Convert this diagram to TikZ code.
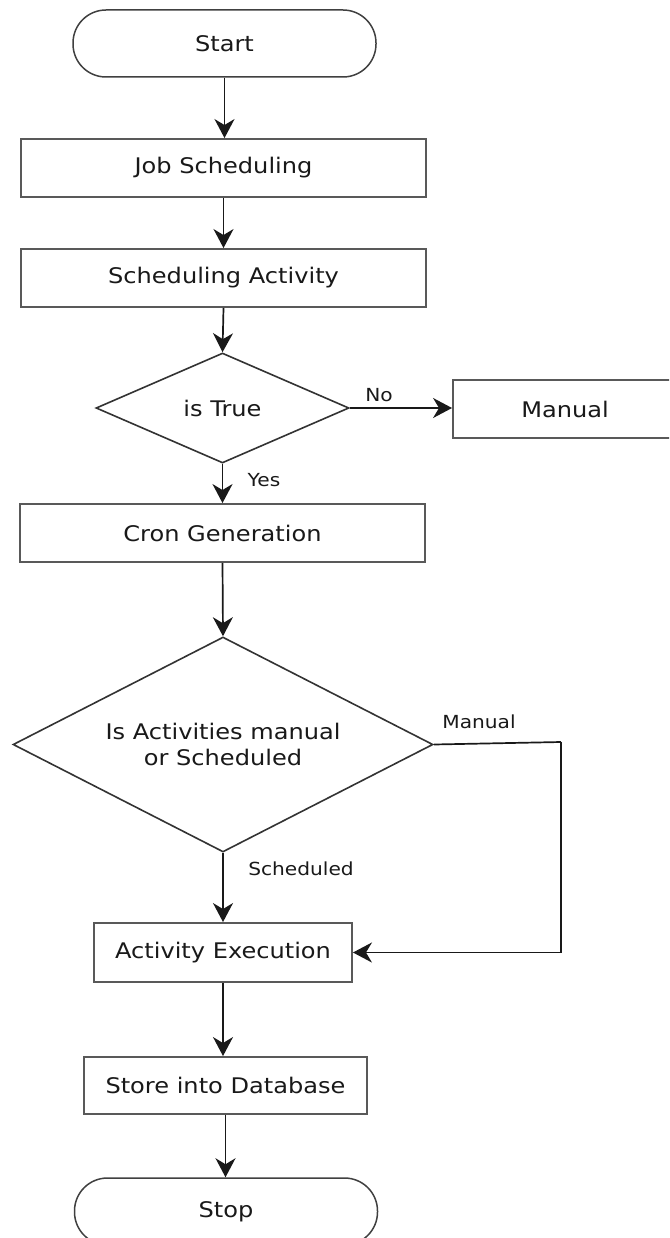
\documentclass[tikz,border=0pt]{standalone}
\usepackage{fontspec}
\setmainfont{DejaVu Sans}[FakeStretch=1.12]
\usetikzlibrary{shapes.geometric,arrows.meta}
\begin{document}
\begin{tikzpicture}[x=1pt,y=-1pt,
  every node/.style={font=\fontsize{21.5}{26}\selectfont, text=black!90},
  box/.style={draw=black!65, line width=1.9pt, minimum width=#1, minimum height=58pt, inner sep=0pt},
  pill/.style={draw=black!75, line width=1.5pt, rounded corners=33pt, minimum width=303pt, minimum height=67pt, inner sep=0pt},
  decision/.style={diamond, draw=black!80, line width=1.6pt, inner sep=0pt, align=center},
  conn/.style={draw=black!90, line width=1.7pt},
  arr/.style={conn, -{Stealth[length=19pt,width=20pt,inset=6pt]}},
  lbl/.style={font=\fontsize{18}{22}\selectfont}
]
\useasboundingbox (0,0) rectangle (669,1238);
\clip (0,0) rectangle (669,1238);
\fill[white] (0,0) rectangle (669,1238);

\node[pill] (start) at (224.5,43.5) {Start};
\node[box=405pt] (job) at (223.5,168) {Job Scheduling};
\node[box=405pt] (sact) at (223.5,278) {Scheduling Activity};
\node[decision, minimum width=253pt, minimum height=110pt, aspect=2.3] (d1) at (222.5,408) {is True};
\node[box=224pt] (man) at (565,409) {Manual};
\node[box=405pt] (cron) at (222.5,533) {Cron Generation};
\node[decision, minimum width=420pt, minimum height=215pt, aspect=1.95] (d2) at (223,744.5) {Is Activities manual\\or Scheduled};
\node[box=258pt, minimum height=59pt] (exec) at (223,952.5) {Activity Execution};
\node[box=283pt, minimum height=57pt] (store) at (225.5,1085.5) {Store into Database};
\node[pill] (stop) at (226,1211.5) {Stop};

\coordinate (c1) at (561,742);

\draw[arr] (start.south) -- (start.south |- job.north);
\draw[arr] (job.south) -- (job.south |- sact.north);
\draw[arr] (sact.south) -- (d1.north);
\draw[arr] (d1.east) -- (d1.east -| man.west);
\draw[arr] (d1.south) -- (d1.south |- cron.north);
\draw[arr] (cron.south) -- (d2.north);
\draw[arr] (d2.south) -- (d2.south |- exec.north);
\draw[conn] (d2.east) -- (c1);
\draw[arr] (c1) |- (exec.east);
\draw[arr] (exec.south) -- (exec.south |- store.north);
\draw[arr] (store.south) -- (store.south |- stop.north);

\node[lbl] (lno) at (379,395) {No};
\node[lbl] (lyes) at (264,480) {Yes};
\node[lbl] (lman) at (479,722) {Manual};
\node[lbl] (lsch) at (301,869) {Scheduled};
\end{tikzpicture}
\end{document}
